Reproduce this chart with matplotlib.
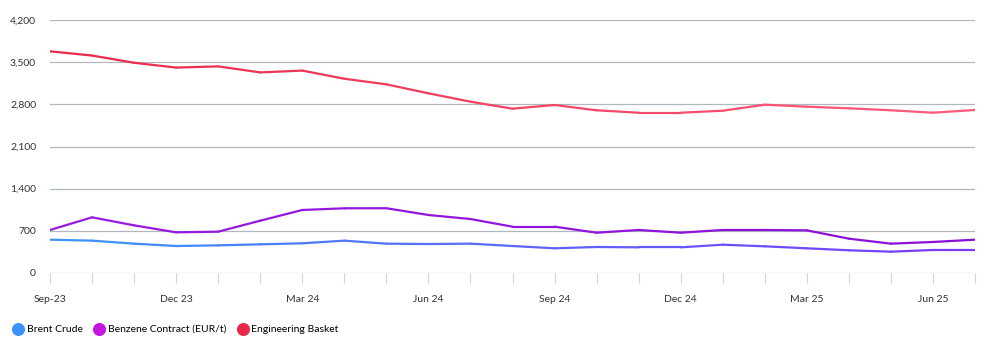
import numpy as np
import matplotlib
matplotlib.use("Agg")
import matplotlib.pyplot as plt
from matplotlib.collections import LineCollection
from matplotlib.colors import LinearSegmentedColormap

plt.rcParams['font.family'] = ['Lato', 'DejaVu Sans']

# monthly points Sep-23 .. Jul-25
months = ["Sep-23", "Oct 23", "Nov 23", "Dec 23", "Jan 24", "Feb 24", "Mar 24", "Apr 24",
          "May 24", "Jun 24", "Jul 24", "Aug 24", "Sep 24", "Oct 24", "Nov 24", "Dec 24",
          "Jan 25", "Feb 25", "Mar 25", "Apr 25", "May 25", "Jun 25", "Jul 25"]
brent = [553, 537, 487, 448, 459, 476, 493, 537, 487, 481, 487, 448, 410, 432, 426, 426,
         470, 443, 410, 377, 354, 382, 382]
benzene = [714, 924, 791, 675, 686, 868, 1046, 1074, 1075, 963, 896, 769, 769, 669, 714, 669,
           714, 714, 708, 570, 487, 515, 553]
engineering = [3680, 3610, 3490, 3410, 3430, 3330, 3360, 3225, 3132, 2983, 2844, 2728, 2789,
               2701, 2661, 2661, 2694, 2794, 2761, 2734, 2701, 2661, 2706]

labelled = ["Sep-23", "Dec 23", "Mar 24", "Jun 24", "Sep 24", "Dec 24", "Mar 25", "Jun 25"]
yticks = [0, 700, 1400, 2100, 2800, 3500, 4200]

series = [
    ("Brent Crude", brent, "#3d93fb", ("#3d93fb", "#7a3cf5")),
    ("Benzene Contract (EUR/t)", benzene, "#c614e0", ("#9a1be0", "#8a10d8")),
    ("Engineering Basket", engineering, "#e8284a", ("#e82a4a", "#ff5c7c")),
]

fig = plt.figure(figsize=(9.91, 3.55), dpi=100)
ax = fig.add_axes([50 / 991, 1 - 273 / 355, 925 / 991, 253 / 355])

x = np.arange(len(months))
ax.set_xlim(0, len(months) - 1)
ax.set_ylim(0, 4200)

for name, vals, c, (c0, c1) in series:
    pts = np.column_stack([x, vals])
    segs = np.stack([pts[:-1], pts[1:]], axis=1)
    cmap = LinearSegmentedColormap.from_list(name, [c0, c1])
    lc = LineCollection(segs, cmap=cmap, linewidth=1.6, capstyle='round', joinstyle='round')
    lc.set_array(np.linspace(0, 1, len(segs)))
    ax.add_collection(lc)
    ax.scatter([], [], color=c, s=70, label=name)

ax.set_yticks(yticks)
ax.set_yticklabels([f"{v:,}" for v in yticks])
ax.grid(axis='y', color='#b0b8bf', linewidth=0.9)
ax.set_axisbelow(True)

ax.set_xticks(x)
ax.set_xticklabels([m if m in labelled else "" for m in months])

for s in ax.spines.values():
    s.set_visible(False)
ax.tick_params(axis='y', length=0, pad=10, labelsize=7.5, labelcolor='#333333')
ax.tick_params(axis='x', length=7, width=0.8, color='#d0d4d8', pad=9, labelsize=7.5,
               labelcolor='#333333')

ax.legend(loc='upper left', bbox_to_anchor=(-42 / 925, -0.186), ncol=3, frameon=False,
          fontsize=7.5, handletextpad=0.2, columnspacing=1.0, borderaxespad=0,
          handlelength=1.2, markerscale=1)

fig.savefig("out.png", dpi=100, facecolor='white')
